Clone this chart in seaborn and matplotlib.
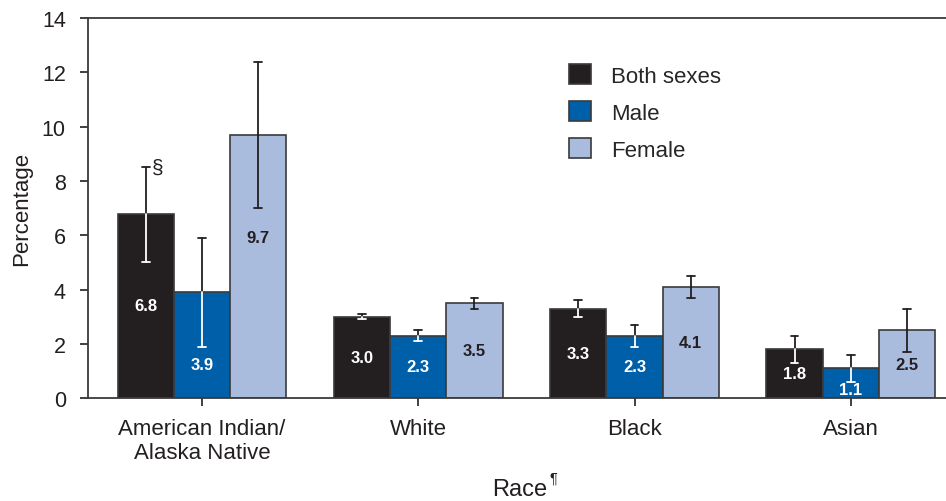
import matplotlib
matplotlib.use('agg')
import numpy as np
import pandas as pd
import seaborn as sns
import matplotlib.pyplot as plt

races = ["American Indian/\nAlaska Native", "White", "Black", "Asian"]
groups = ["Both sexes", "Male", "Female"]
both = [6.8, 3.0, 3.3, 1.8]
male = [3.9, 2.3, 2.3, 1.1]
female = [9.7, 3.5, 4.1, 2.5]
# 95% CI lower / upper
both_lo = [5.0, 2.9, 3.0, 1.3]
both_hi = [8.5, 3.1, 3.6, 2.3]
male_lo = [1.9, 2.1, 1.9, 0.6]
male_hi = [5.9, 2.5, 2.7, 1.6]
female_lo = [7.0, 3.3, 3.7, 1.7]
female_hi = [12.4, 3.7, 4.5, 3.3]

colors = ["#231f20", "#005fa9", "#a9bcde"]
txt_colors = ["white", "white", "#231f20"]

rows = []
for g, v, lo, hi in zip(groups, [both, male, female],
                        [both_lo, male_lo, female_lo], [both_hi, male_hi, female_hi]):
    for r, a, b, c in zip(races, v, lo, hi):
        rows.append([r, g, a, b, c])
df = pd.DataFrame(rows, columns=["race", "sex", "pct", "lo", "hi"])

sns.set_style("white")
plt.rcParams['font.family'] = ['Liberation Sans', 'DejaVu Sans']
dark = "#231f20"

fig = plt.figure(figsize=(9.46, 5.02), dpi=100)
ax = fig.add_axes([0.093, 0.205, 0.907, 0.757])

sns.barplot(data=df, x="race", y="pct", hue="sex", order=races, hue_order=groups,
            palette=colors, errorbar=None, width=0.78, edgecolor="#3a3a3a",
            linewidth=1.2, saturation=1, ax=ax, legend=True)

# label heights (moved where the CI would overlap the number)
label_y = {(races[0], "Female"): 5.9, (races[0], "Male"): 1.25,
           (races[3], "Male"): 0.33}

for gi, cont in enumerate(ax.containers):
    g = groups[gi]
    inside = "white" if gi < 2 else dark
    for ri, bar in enumerate(cont):
        r = races[ri]
        sub = df[(df.race == r) & (df.sex == g)].iloc[0]
        xc = bar.get_x() + bar.get_width() / 2
        cw = 0.018
        # CI: dark above bar top, white inside the dark bars
        ax.plot([xc, xc], [sub.pct, sub.hi], color=dark, lw=1.3, zorder=4)
        ax.plot([xc, xc], [sub.lo, sub.pct], color=inside, lw=1.3, zorder=4)
        ax.plot([xc - cw, xc + cw], [sub.hi, sub.hi], color=dark, lw=1.3, zorder=4)
        ax.plot([xc - cw, xc + cw], [sub.lo, sub.lo], color=inside, lw=1.3, zorder=4)
        ypos = label_y.get((r, g), sub.pct / 2)
        ax.text(xc, ypos, f"{sub.pct:.1f}", ha="center", va="center",
                color=txt_colors[gi], fontsize=12, fontweight="bold", zorder=5)

# section mark beside AI/AN both-sexes CI
b0 = ax.containers[0][0]
ax.text(b0.get_x() + b0.get_width() / 2 + 0.03, both_hi[0], "§",
        fontsize=15, ha="left", va="center", color=dark)

ax.set_ylim(0, 14)
ax.set_xlim(-0.527, 3.44)
ax.set_yticks(np.arange(0, 15, 2))
ax.set_ylabel("Percentage", fontsize=16, color=dark, labelpad=7)
ax.set_xlabel("Race", fontsize=17, color=dark, va="baseline")
ax.xaxis.set_label_coords(0.503, -0.255)
ax.text(0.538, -0.19, "¶", transform=ax.transAxes, fontsize=10.5,
        ha="left", va="top", color=dark)
ax.tick_params(axis="both", colors=dark, length=6, width=1.2,
               direction="out", left=True, bottom=True)
ax.tick_params(axis="y", labelsize=15.5, pad=10)
ax.tick_params(axis="x", labelsize=16, pad=8)
for s in ["left", "bottom", "top"]:
    ax.spines[s].set_color("#3a3a3a")
    ax.spines[s].set_linewidth(1.3)
ax.spines["right"].set_visible(False)

handles, labels = ax.get_legend_handles_labels()
ax.legend(handles, labels, loc="upper left", bbox_to_anchor=(0.537, 0.931), frameon=False,
          fontsize=16, handlelength=1.0, handleheight=1.0, labelspacing=0.65,
          handletextpad=0.9)

fig.savefig("out.png", dpi=100)
